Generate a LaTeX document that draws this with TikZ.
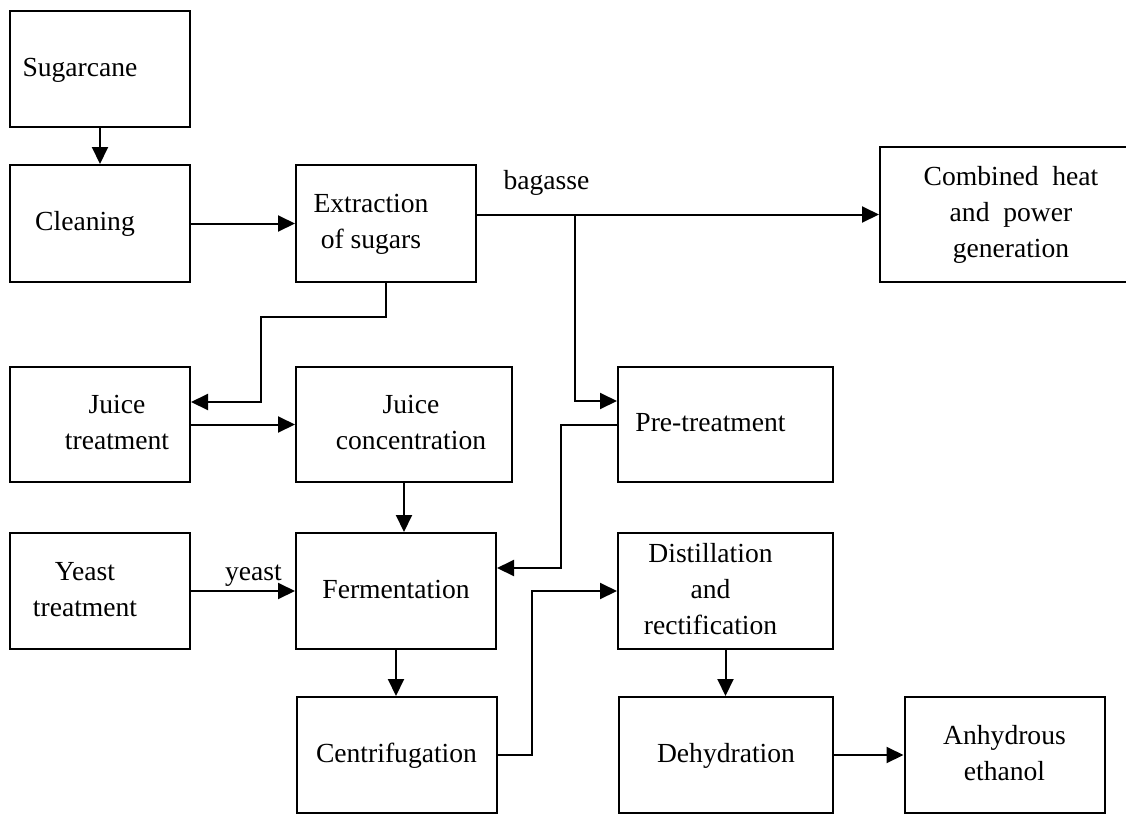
\documentclass[tikz,border=0pt]{standalone}
\usepackage{fontspec}
\setmainfont{Liberation Serif}
\usetikzlibrary{arrows.meta}
\tikzstyle{procbox} = [draw=black, line width=1pt, rectangle, inner sep=0pt, minimum height=58pt, font=\fontsize{13.8pt}{18pt}\selectfont]
\tikzstyle{flow} = [draw=black, line width=1pt, -{Triangle[length=8.5pt,width=8pt]}]
\tikzstyle{flowlabel} = [font=\fontsize{13.8pt}{18pt}\selectfont, inner sep=2pt]
\newcommand{\boxlines}[2][0pt]{\hspace*{#1}\begin{tabular}{@{}c@{}}#2\end{tabular}\hspace*{-#1}}

\begin{document}
\begin{tikzpicture}[x=0.5pt, y=-0.5pt]
\path[use as bounding box, clip] (0,0) rectangle (1126,831);
\fill[white] (0,0) rectangle (1126,831);

\node[procbox, minimum width=90pt] (sugar) at (100,69) {\boxlines[-10pt]{Sugarcane}};
\node[procbox, minimum width=90pt, minimum height=58.5pt] (clean) at (100,223.5) {\boxlines[-7.5pt]{Cleaning}};
\node[procbox, minimum width=90pt, minimum height=58.5pt] (extract) at (386,223.5) {\boxlines[-7.5pt]{Extraction\\of sugars}};
\node[procbox, minimum width=131pt, minimum height=67.5pt] (chp) at (1011,214.5) {\boxlines{Combined~\ heat\\and~\ power\\generation}};
\node[procbox, minimum width=90pt, minimum height=57.5pt] (juicet) at (100,424.5) {\boxlines[8.5pt]{Juice\\treatment}};
\node[procbox, minimum width=108pt, minimum height=57.5pt] (juicec) at (404,424.5) {\boxlines[3.5pt]{Juice\\concentration}};
\node[procbox, minimum width=107.5pt, minimum height=57.5pt] (pretreat) at (725.5,424.5) {\boxlines[-7.5pt]{Pre-treatment}};
\node[procbox, minimum width=90pt] (yeastt) at (100,591) {\boxlines[-7.5pt]{Yeast\\treatment}};
\node[procbox, minimum width=100pt] (ferm) at (396,591) {\boxlines{Fermentation}};
\node[procbox, minimum width=107.5pt] (distil) at (725.5,591) {\boxlines[-7.5pt]{Distillation\\and\\rectification}};
\node[procbox, minimum width=100pt] (centri) at (396.5,755) {\boxlines{Centrifugation}};
\node[procbox, minimum width=107pt] (dehyd) at (726,755) {\boxlines{Dehydration}};
\node[procbox, minimum width=100pt] (ethanol) at (1004.5,755) {\boxlines{Anhydrous\\ethanol}};

\coordinate (split) at (575,214);

\draw[flow] (sugar) -- (clean);
\draw[flow] (clean) -- (extract);
\draw[flow] (extract.east |- chp.west) -- node[flowlabel, pos=0.173, above, yshift=7pt] (bagasselbl) {bagasse} (chp.west);
\draw[flow] (split) |- ([yshift=11.75pt]pretreat.west);
\draw[flow] (extract.south) |- (261,317) |- ([yshift=11.25pt]juicet.east);
\draw[flow] (juicet) -- (juicec);
\draw[flow] (juicec.south) -- (juicec.south |- ferm.north);
\draw[flow] (pretreat.west) -- ++(-56,0) |- ([yshift=11.5pt]ferm.east);
\draw[flow] (yeastt) -- node[flowlabel, pos=0.6, above] (yeastlbl) {yeast} (ferm);
\draw[flow] (ferm.south) -- (ferm.south |- centri.north);
\draw[flow] (centri.east) -- ++(34,0) |- (distil.west);
\draw[flow] (distil.south) -- (distil.south |- dehyd.north);
\draw[flow] (dehyd) -- (ethanol);
\end{tikzpicture}
\end{document}
